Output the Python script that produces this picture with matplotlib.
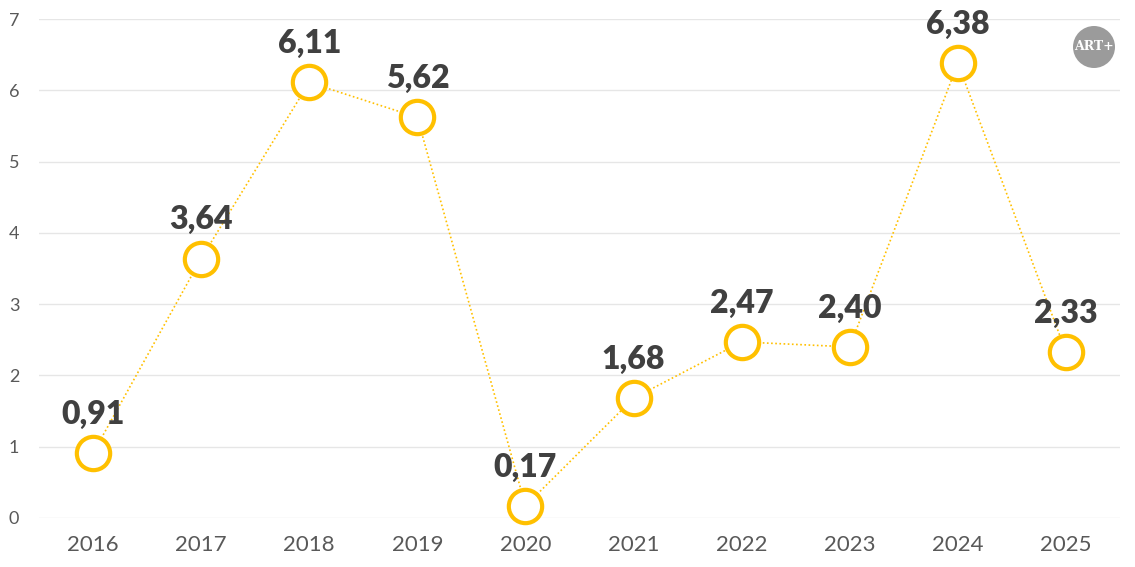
import matplotlib
matplotlib.use("Agg")
import matplotlib.pyplot as plt
from matplotlib.patches import Ellipse

years = ["2016", "2017", "2018", "2019", "2020", "2021", "2022", "2023", "2024", "2025"]
values = [0.91, 3.64, 6.11, 5.62, 0.17, 1.68, 2.47, 2.40, 6.38, 2.33]
yticks = [0, 1, 2, 3, 4, 5, 6, 7]

YELLOW = "#FFC000"
plt.rcParams['font.family'] = ['Lato', 'DejaVu Sans']

fig = plt.figure(figsize=(11.35, 5.67), dpi=100)
ax = fig.add_axes([39/1135, 49/567, (1120-39)/1135, (518-19)/567])

x = list(range(len(years)))
ax.plot(x, values, color=YELLOW, linestyle=(0, (1, 1.5)), linewidth=1.2,
        marker='o', markersize=24, markerfacecolor='white',
        markeredgecolor=YELLOW, markeredgewidth=3, zorder=3, clip_on=False)

for xi, v in zip(x, values):
    ax.annotate(f"{v:.2f}".replace('.', ','), (xi, v), xytext=(0, 21),
                textcoords='offset points', ha='center', va='baseline',
                fontsize=23, fontweight='heavy', color='#404040', zorder=4)

ax.set_xlim(-0.5, len(years) - 0.5)
ax.set_ylim(0, 7)
ax.set_xticks(x)
ax.set_xticklabels(years)
ax.set_yticks(yticks)
ax.tick_params(axis='x', labelsize=16, colors='#595959', length=0, pad=12)
ax.tick_params(axis='y', labelsize=13, colors='#595959', length=0, pad=18)
for lbl in ax.get_yticklabels():
    lbl.set_horizontalalignment('center')
ax.yaxis.grid(True, color='#E6E6E6', linewidth=1)
ax.set_axisbelow(True)
for s in ax.spines.values():
    s.set_visible(False)

# ART+ logo
logo = Ellipse((1094/1135, 1 - 47/567), 42/1135, 42/567, transform=fig.transFigure,
               facecolor='#9B9B9B', edgecolor='none')
fig.patches.append(logo)
fig.text(1094/1135, 1 - 47/567, "ART+", ha='center', va='center',
         fontsize=9, fontweight='bold', color='white', family='DejaVu Serif')

fig.savefig("out.png", dpi=100)
